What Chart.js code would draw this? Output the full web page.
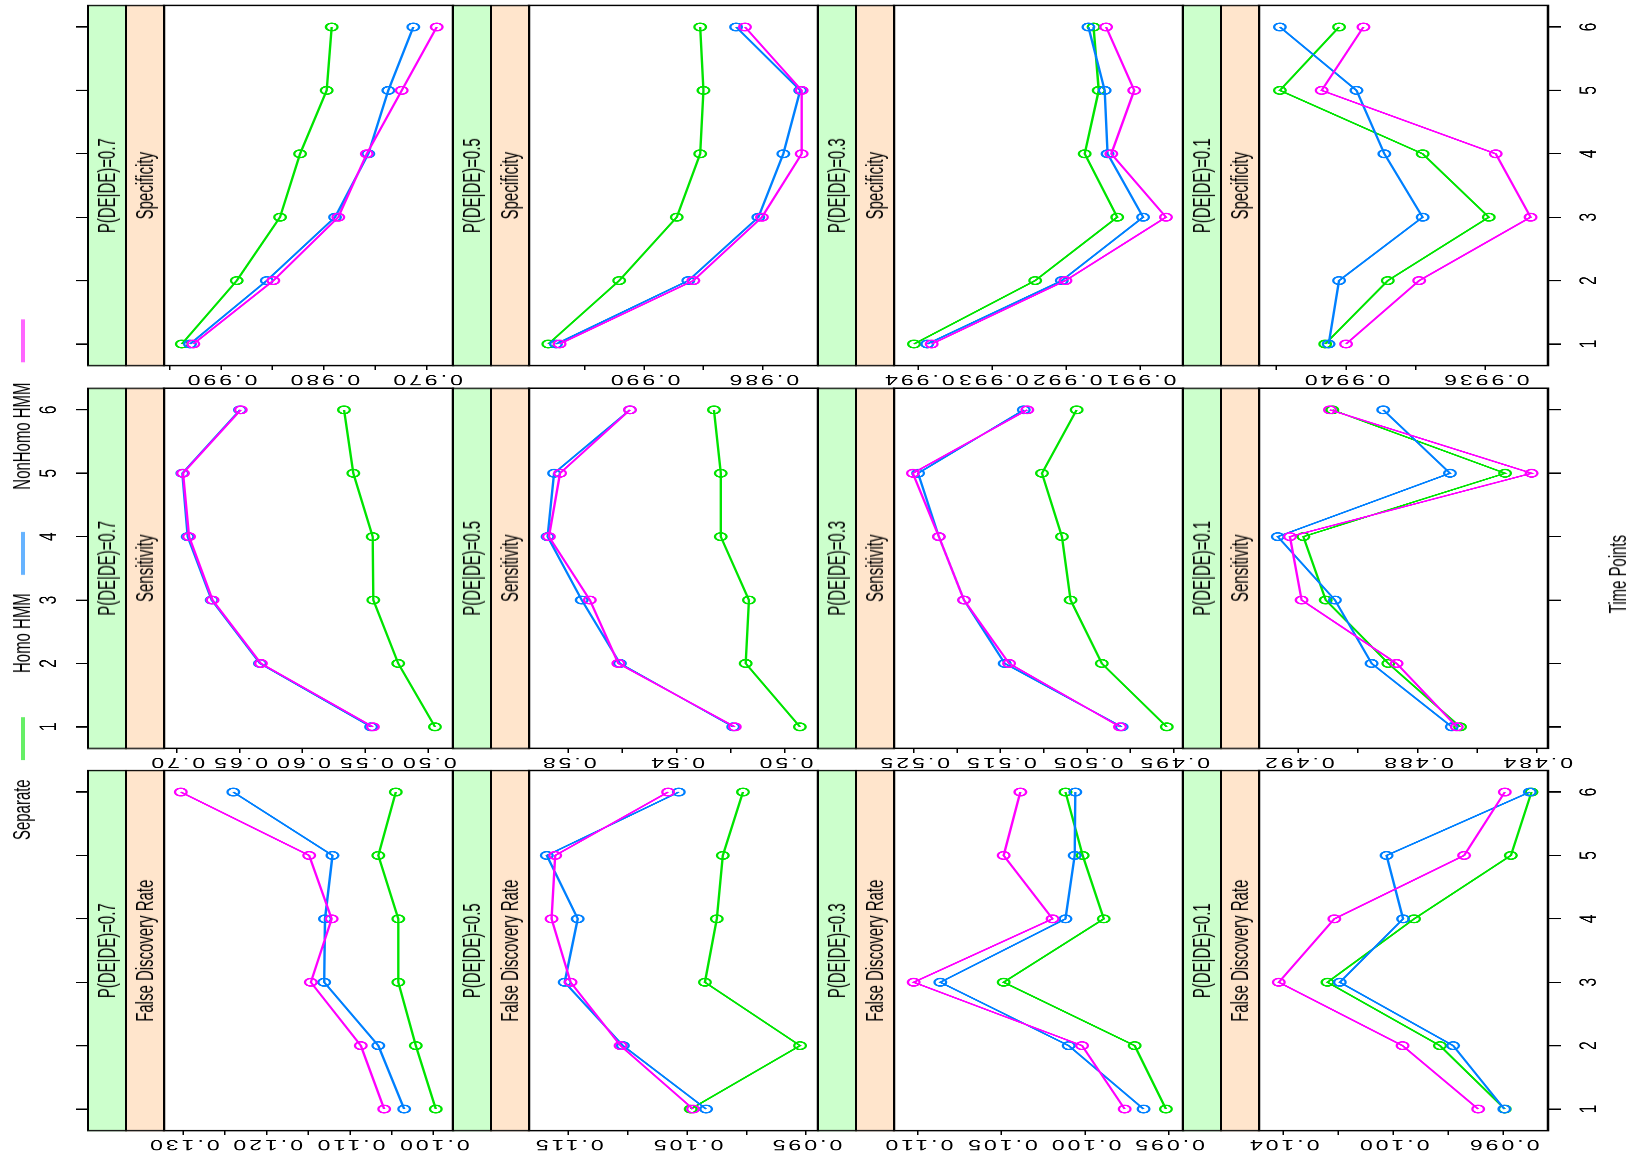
<!DOCTYPE html>
<html>
<head>
<meta charset="utf-8">
<script src="https://cdn.jsdelivr.net/npm/chart.js@4.4.0/dist/chart.umd.min.js"></script>
<style>
html, body { margin: 0; padding: 0; background: #fff; overflow: hidden; width: 1639px; height: 1154px; }
#stage { position: absolute; left: 0; top: 0; width: 1776px; height: 1639px; transform-origin: 0 0;
  transform: translate(0px, 1154px) rotate(-90deg) scale(0.65, 1);
  font-family: "Liberation Sans", Arial, sans-serif; color: #000; }
#stage canvas { position: absolute; }
.strip { position: absolute; box-sizing: border-box; border: 2.5px solid #000; display: flex; align-items: center;
  justify-content: center; font-size: 23px; white-space: nowrap; }
.g { background: #ccffcc; }
.o { background: #ffe5cc; }
.txt { position: absolute; font-size: 23px; white-space: nowrap; line-height: 26px; height: 26px; }
.kline { position: absolute; height: 4px; }
</style>
</head>
<body>
<div id="stage"></div>
<script>
// ---------------- data ----------------
const timePoints = [1, 2, 3, 4, 5, 6];
const pLevels = ['P(DE|DE)=0.7', 'P(DE|DE)=0.5', 'P(DE|DE)=0.3', 'P(DE|DE)=0.1'];
const metricNames = ['False Discovery Rate', 'Sensitivity', 'Specificity'];
const seriesNames = ['Separate', 'Homo HMM', 'NonHomo HMM'];
const seriesColors = ['#00e400', '#0080ff', '#ff00ff'];

// False Discovery Rate
const fdr07Separate = [0.0997, 0.1021, 0.1042, 0.1042, 0.1066, 0.1045];
const fdr07Homo     = [0.1035, 0.1066, 0.1131, 0.1130, 0.1121, 0.1240];
const fdr07NonHomo  = [0.1059, 0.1087, 0.1147, 0.1122, 0.1149, 0.1303];
const fdr05Separate = [0.1047, 0.0955, 0.1035, 0.1025, 0.1020, 0.1003];
const fdr05Homo     = [0.1034, 0.1104, 0.1153, 0.1142, 0.1168, 0.1057];
const fdr05NonHomo  = [0.1045, 0.1106, 0.1148, 0.1164, 0.1161, 0.1066];
const fdr03Separate = [0.09516, 0.09703, 0.10487, 0.09888, 0.10014, 0.10117];
const fdr03Homo     = [0.09650, 0.10098, 0.10866, 0.10117, 0.10062, 0.10058];
const fdr03NonHomo  = [0.09763, 0.10018, 0.11025, 0.10194, 0.10487, 0.10387];
const fdr01Separate = [0.09594, 0.09830, 0.10239, 0.09924, 0.09572, 0.09497];
const fdr01Homo     = [0.09596, 0.09782, 0.10194, 0.09964, 0.10024, 0.09503];
const fdr01NonHomo  = [0.09691, 0.09966, 0.10416, 0.10214, 0.09742, 0.09594];

// Sensitivity
const sens07Separate = [0.4947, 0.5239, 0.5437, 0.5442, 0.5596, 0.5670];
const sens07Homo     = [0.5455, 0.6338, 0.6722, 0.6913, 0.6955, 0.6497];
const sens07NonHomo  = [0.5440, 0.6330, 0.6715, 0.6902, 0.6950, 0.6490];
const sens05Separate = [0.4945, 0.5145, 0.5133, 0.5237, 0.5237, 0.5262];
const sens05Homo     = [0.5191, 0.5609, 0.5750, 0.5876, 0.5852, 0.5572];
const sens05NonHomo  = [0.5185, 0.5615, 0.5720, 0.5871, 0.5830, 0.5572];
const sens03Separate = [0.4958, 0.5033, 0.5069, 0.5079, 0.5102, 0.5062];
const sens03Homo     = [0.5010, 0.5145, 0.5192, 0.5221, 0.5245, 0.5123];
const sens03NonHomo  = [0.5012, 0.5140, 0.5192, 0.5221, 0.5251, 0.5119];
const sens01Separate = [0.48657, 0.48898, 0.49108, 0.49183, 0.48506, 0.49086];
const sens01Homo     = [0.48685, 0.48954, 0.49077, 0.49269, 0.48691, 0.48915];
const sens01NonHomo  = [0.48668, 0.48870, 0.49189, 0.49228, 0.48417, 0.49094];

// Specificity
const spec07Separate = [0.99382, 0.98847, 0.98426, 0.98231, 0.97972, 0.97923];
const spec07Homo     = [0.99302, 0.98555, 0.97891, 0.97567, 0.97372, 0.97129];
const spec07NonHomo  = [0.99270, 0.98491, 0.97859, 0.97582, 0.97242, 0.96901];
const spec05Separate = [0.99323, 0.99084, 0.98890, 0.98811, 0.98800, 0.98811];
const spec05Homo     = [0.99297, 0.98851, 0.98615, 0.98531, 0.98474, 0.98690];
const spec05NonHomo  = [0.99285, 0.98834, 0.98603, 0.98469, 0.98469, 0.98660];
const spec03Separate = [0.99406, 0.99242, 0.99131, 0.99175, 0.99156, 0.99163];
const spec03Homo     = [0.99388, 0.99206, 0.99096, 0.99144, 0.99148, 0.99170];
const spec03NonHomo  = [0.99382, 0.99201, 0.99065, 0.99139, 0.99108, 0.99146];
const spec01Separate = [0.99406, 0.99388, 0.99359, 0.99378, 0.99419, 0.99402];
const spec01Homo     = [0.99405, 0.99402, 0.99378, 0.99389, 0.99397, 0.99419];
const spec01NonHomo  = [0.99400, 0.99379, 0.99347, 0.99357, 0.99407, 0.99395];

// value-axis ticks, tick labels and limits
const fdr07Ticks = [0.130, 0.125, 0.120, 0.115, 0.110, 0.105, 0.100];
const fdr07Labels = ['0.130', '', '0.120', '', '0.110', '', '0.100'];
const fdr07Range = [0.09764, 0.13232];
const fdr05Ticks = [0.115, 0.110, 0.105, 0.100, 0.095];
const fdr05Labels = ['0.115', '', '0.105', '', '0.095'];
const fdr05Range = [0.09399, 0.1183];
const fdr03Ticks = [0.110, 0.105, 0.100, 0.095];
const fdr03Labels = ['0.110', '0.105', '0.100', '0.095'];
const fdr03Range = [0.09414, 0.11143];
const fdr01Ticks = [0.104, 0.102, 0.100, 0.098, 0.096];
const fdr01Labels = ['0.104', '', '0.100', '', '0.096'];
const fdr01Range = [0.09437, 0.10488];

const sens07Ticks = [0.70, 0.65, 0.60, 0.55, 0.50];
const sens07Labels = ['0.70', '0.65', '0.60', '0.55', '0.50'];
const sens07Range = [0.48036, 0.7101];
const sens05Ticks = [0.58, 0.56, 0.54, 0.52, 0.50];
const sens05Labels = ['0.58', '', '0.54', '', '0.50'];
const sens05Range = [0.48782, 0.59446];
const sens03Ticks = [0.525, 0.520, 0.515, 0.510, 0.505, 0.500, 0.495];
const sens03Labels = ['0.525', '', '0.515', '', '0.505', '', '0.495'];
const sens03Range = [0.49393, 0.52728];
const sens01Ticks = [0.492, 0.490, 0.488, 0.486, 0.484];
const sens01Labels = ['0.492', '', '0.488', '', '0.484'];
const sens01Range = [0.48362, 0.49332];

const spec07Ticks = [0.995, 0.990, 0.985, 0.980, 0.975, 0.970];
const spec07Labels = ['', '0.990', '', '0.980', '', '0.970'];
const spec07Range = [0.96743, 0.99555];
const spec05Ticks = [0.992, 0.990, 0.988, 0.986];
const spec05Labels = ['', '0.990', '', '0.986'];
const spec05Range = [0.98414, 0.99388];
const spec03Ticks = [0.994, 0.993, 0.992, 0.991];
const spec03Labels = ['0.994', '0.993', '0.992', '0.991'];
const spec03Range = [0.99042, 0.99433];
const spec01Ticks = [0.9942, 0.9940, 0.9938, 0.9936];
const spec01Labels = ['', '0.9940', '', '0.9936'];
const spec01Range = [0.99342, 0.99425];

const timeRange = [0.66, 6.34];

// ---------------- table for the library ----------------
const table = [
  [
    { s: [fdr07Separate, fdr07Homo, fdr07NonHomo], t: fdr07Ticks, l: fdr07Labels, r: fdr07Range },
    { s: [sens07Separate, sens07Homo, sens07NonHomo], t: sens07Ticks, l: sens07Labels, r: sens07Range },
    { s: [spec07Separate, spec07Homo, spec07NonHomo], t: spec07Ticks, l: spec07Labels, r: spec07Range }
  ],
  [
    { s: [fdr05Separate, fdr05Homo, fdr05NonHomo], t: fdr05Ticks, l: fdr05Labels, r: fdr05Range },
    { s: [sens05Separate, sens05Homo, sens05NonHomo], t: sens05Ticks, l: sens05Labels, r: sens05Range },
    { s: [spec05Separate, spec05Homo, spec05NonHomo], t: spec05Ticks, l: spec05Labels, r: spec05Range }
  ],
  [
    { s: [fdr03Separate, fdr03Homo, fdr03NonHomo], t: fdr03Ticks, l: fdr03Labels, r: fdr03Range },
    { s: [sens03Separate, sens03Homo, sens03NonHomo], t: sens03Ticks, l: sens03Labels, r: sens03Range },
    { s: [spec03Separate, spec03Homo, spec03NonHomo], t: spec03Ticks, l: spec03Labels, r: spec03Range }
  ],
  [
    { s: [fdr01Separate, fdr01Homo, fdr01NonHomo], t: fdr01Ticks, l: fdr01Labels, r: fdr01Range },
    { s: [sens01Separate, sens01Homo, sens01NonHomo], t: sens01Ticks, l: sens01Labels, r: sens01Range },
    { s: [spec01Separate, spec01Homo, spec01NonHomo], t: spec01Ticks, l: spec01Labels, r: spec01Range }
  ]
];

// ---------------- layout (pre-rotation coordinates) ----------------
const FONT = '"Liberation Sans", Arial, sans-serif';
Chart.defaults.font.family = FONT;
Chart.defaults.color = '#000';
const LM = 36;                       // room for value-axis labels
const colLeft = [35.8, 624.2, 1212.8];
const panelW = 554;
const rowTop = [88, 453, 818, 1183];  // strip tops
const stripH = 38;
const plotH = 289;
const stage = document.getElementById('stage');

const panelDeco = {
  id: 'panelDeco',
  afterDraw(chart, args, opts) {
    const ctx = chart.ctx, a = chart.chartArea, ys = chart.scales.y;
    ctx.save();
    ctx.strokeStyle = '#000';
    ctx.lineWidth = 2.5;
    ctx.strokeRect(a.left, a.top, a.right - a.left, a.bottom - a.top);
    ctx.fillStyle = '#000';
    ctx.font = '23px ' + FONT;
    ctx.textAlign = 'center';
    ctx.textBaseline = 'middle';
    try { ctx.letterSpacing = '3px'; } catch (e) {}
    ys.ticks.forEach((tk, k) => {
      const lab = opts.labels[k];
      if (!lab) return;
      const py = ys.getPixelForValue(tk.value);
      ctx.save();
      ctx.translate(a.left - 21, py);
      ctx.rotate(-Math.PI / 2);
      ctx.fillText(lab, 0, 0);
      ctx.restore();
    });
    ctx.restore();
  }
};

for (let i = 0; i < 4; i++) {
  for (let j = 0; j < 3; j++) {
    const cell = table[i][j];
    const isTop = i === 0, isBottom = i === 3;
    const TM = isTop ? 130 : 50;
    const BM = isBottom ? 60 : 50;
    const plotTop = rowTop[i] + 2 * stripH;
    const cv = document.createElement('canvas');
    cv.width = LM + panelW + 6;
    cv.height = TM + plotH + BM;
    cv.style.left = (colLeft[j] - LM) + 'px';
    cv.style.top = (plotTop - TM) + 'px';
    stage.appendChild(cv);

    const showTimeLabels = isTop ? (j === 1) : (j !== 1);
    const order = [2, 1, 0];  // NonHomo drawn on top
    const datasets = order.map(k => ({
      label: seriesNames[k],
      data: timePoints.map((t, n) => ({ x: t, y: cell.s[k][n] })),
      borderColor: seriesColors[k],
      backgroundColor: 'rgba(0,0,0,0)',
      borderWidth: 2.4,
      pointRadius: 5.8,
      pointBorderWidth: 2.3,
      pointBorderColor: seriesColors[k],
      pointBackgroundColor: 'rgba(0,0,0,0)',
      tension: 0,
      clip: false
    }));

    new Chart(cv, {
      type: 'line',
      data: { datasets },
      options: {
        responsive: false,
        maintainAspectRatio: false,
        animation: false,
        devicePixelRatio: 2,
        events: [],
        layout: { autoPadding: false, padding: { left: 0, right: 6, top: isTop ? 0 : TM, bottom: isBottom ? 0 : BM } },
        plugins: { legend: { display: false }, tooltip: { enabled: false }, panelDeco: { labels: cell.l } },
        scales: {
          x: {
            type: 'linear',
            min: timeRange[0], max: timeRange[1],
            bounds: 'data',
            display: isTop || isBottom,
            position: isTop ? 'top' : 'bottom',
            afterBuildTicks: s => { s.ticks = timePoints.map(v => ({ value: v })); },
            afterFit: s => { s.height = isTop ? TM : (isBottom ? BM : 0); },
            grid: { drawOnChartArea: false, drawTicks: true, tickLength: isTop ? 88 : 13, color: '#000', lineWidth: 2 },
            border: { display: false },
            ticks: {
              autoSkip: false, maxRotation: 0, minRotation: 0,
              padding: isTop ? 12 : 14,
              color: '#000',
              font: { size: 24, family: FONT },
              callback: v => showTimeLabels ? String(v) : ''
            }
          },
          y: {
            type: 'linear',
            min: cell.r[0], max: cell.r[1],
            bounds: 'data',
            position: 'left',
            afterBuildTicks: s => { s.ticks = cell.t.map(v => ({ value: v })); },
            afterFit: s => { s.width = LM; },
            grid: { drawOnChartArea: false, drawTicks: true, tickLength: 7, color: '#000', lineWidth: 1.5 },
            border: { display: false },
            ticks: { display: false }
          }
        }
      },
      plugins: [panelDeco]
    });
  }
}

// strips
function addDiv(cls, left, top, w, h, text) {
  const d = document.createElement('div');
  d.className = cls;
  d.style.left = left + 'px';
  d.style.top = top + 'px';
  if (w != null) d.style.width = w + 'px';
  if (h != null) d.style.height = h + 'px';
  if (text != null) d.textContent = text;
  stage.appendChild(d);
  return d;
}
for (let i = 0; i < 4; i++) {
  for (let j = 0; j < 3; j++) {
    addDiv('strip g', colLeft[j] - 1.25, rowTop[i] - 1.25, panelW + 2.5, stripH + 2.5, pLevels[i]);
    addDiv('strip o', colLeft[j] - 1.25, rowTop[i] + stripH - 1.25, panelW + 2.5, stripH + 2.5, metricNames[j]);
  }
}

// key (legend)
const keyText = [483, 740, 1022];
const keyLine = [606, 891, 1218];
for (let k = 0; k < 3; k++) {
  addDiv('txt', keyText[k], 9, null, null, seriesNames[k]);
  const ln = addDiv('kline', keyLine[k], 20.5, 66, null, null);
  ln.style.background = seriesColors[k];
  ln.style.opacity = '0.6';
}

// x-axis title
const xt = addDiv('txt', 892 - 100, 1605, 200, null, 'Time Points');
xt.style.textAlign = 'center';
</script>
</body>
</html>
